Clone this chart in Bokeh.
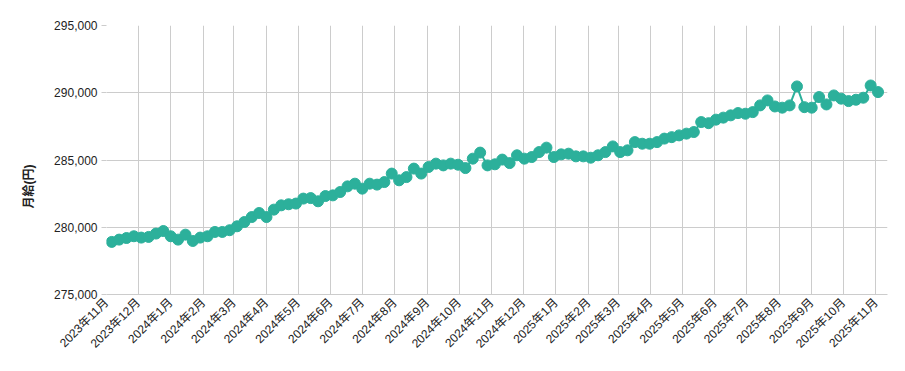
import math
import pandas as pd
from bokeh.plotting import figure
from bokeh.models import (ColumnDataSource, MonthsTicker, FixedTicker, NumeralTickFormatter,
                          CustomJSTickFormatter, Range1d, Title)
from bokeh.embed import file_html
from bokeh.resources import INLINE

start_date = "2023-11-06"
salary = [
    278910, 279080, 279200, 279330, 279230, 279280, 279530, 279720, 279330, 279080,
    279450, 278980, 279230, 279330, 279650, 279650, 279780, 280070, 280390, 280760,
    281060, 280760, 281310, 281630, 281710, 281760, 282130, 282170, 281930, 282320,
    282370, 282620, 283040, 283240, 282870, 283240, 283170, 283360, 283990, 283490,
    283730, 284360, 283990, 284480, 284730, 284600, 284730, 284650, 284400, 285100,
    285550, 284600, 284680, 285030, 284770, 285350, 285100, 285220, 285590, 285920,
    285220, 285420, 285470, 285270, 285270, 285170, 285350, 285590, 286010, 285590,
    285720, 286330, 286210, 286210, 286330, 286590, 286700, 286830, 286960, 287080,
    287820, 287740, 288000, 288150, 288320, 288490, 288440, 288560, 289060, 289430,
    288980, 288890, 289060, 290470, 288930, 288890, 289680, 289130, 289800, 289560,
    289380, 289480, 289630, 290540, 290050,
]
y_ticks = [275000, 280000, 285000, 290000, 295000]
y_label = "月給(円)"
x_start = "2023-11-01"
x_end = "2025-11-12"

dates = pd.date_range(start_date, periods=len(salary), freq="7D")
src = ColumnDataSource(dict(date=dates, salary=salary))

COLOR = "#2cb09b"
FONT = "Liberation Sans, Noto Sans CJK JP"

p = figure(width=897, height=363, x_axis_type="datetime",
           x_range=Range1d(pd.Timestamp(x_start), pd.Timestamp(x_end)),
           y_range=Range1d(y_ticks[0], y_ticks[-1]),
           output_backend="svg", toolbar_location=None,
           min_border_left=106, min_border_right=10, min_border_top=25, min_border_bottom=69)

p.line("date", "salary", source=src, line_color=COLOR, line_width=2)
p.scatter("date", "salary", source=src, size=11, fill_color=COLOR, line_color=COLOR)

p.outline_line_color = None
p.background_fill_color = "white"
p.border_fill_color = "white"

xa = p.xaxis[0]
xa.ticker = MonthsTicker(months=list(range(1, 13)))
xa.formatter = CustomJSTickFormatter(code="""
const d = new Date(tick);
return d.getUTCFullYear() + '年' + (d.getUTCMonth() + 1) + '月';
""")
xa.major_label_orientation = math.pi / 4
xa.major_tick_out = 0
xa.major_tick_in = 0
xa.minor_tick_out = 0
xa.minor_tick_in = 0
xa.axis_line_color = "#cccccc"
xa.major_label_text_font = FONT
xa.major_label_text_font_size = "12px"
xa.major_label_text_color = "#222222"
xa.major_label_standoff = 6

ya = p.yaxis[0]
ya.ticker = FixedTicker(ticks=y_ticks)
ya.formatter = NumeralTickFormatter(format="0,0")
ya.major_tick_out = 5
ya.major_tick_in = 0
ya.minor_tick_out = 0
ya.minor_tick_in = 0
ya.major_tick_line_color = "#cccccc"
ya.axis_line_color = None
ya.major_label_text_font = FONT
ya.major_label_text_font_size = "12px"
ya.major_label_text_color = "#222222"
ya.major_label_standoff = 4

for g in (p.xgrid[0], p.ygrid[0]):
    g.grid_line_color = "#cccccc"
    g.grid_line_width = 1

ttl = Title(text=y_label, align="left", offset=86, standoff=32,
            text_font_size="12px", text_font_style="bold", text_color="#222222")
ttl.text_font = FONT
p.add_layout(ttl, "left")

open("out.html", "w").write(file_html(p, INLINE))
